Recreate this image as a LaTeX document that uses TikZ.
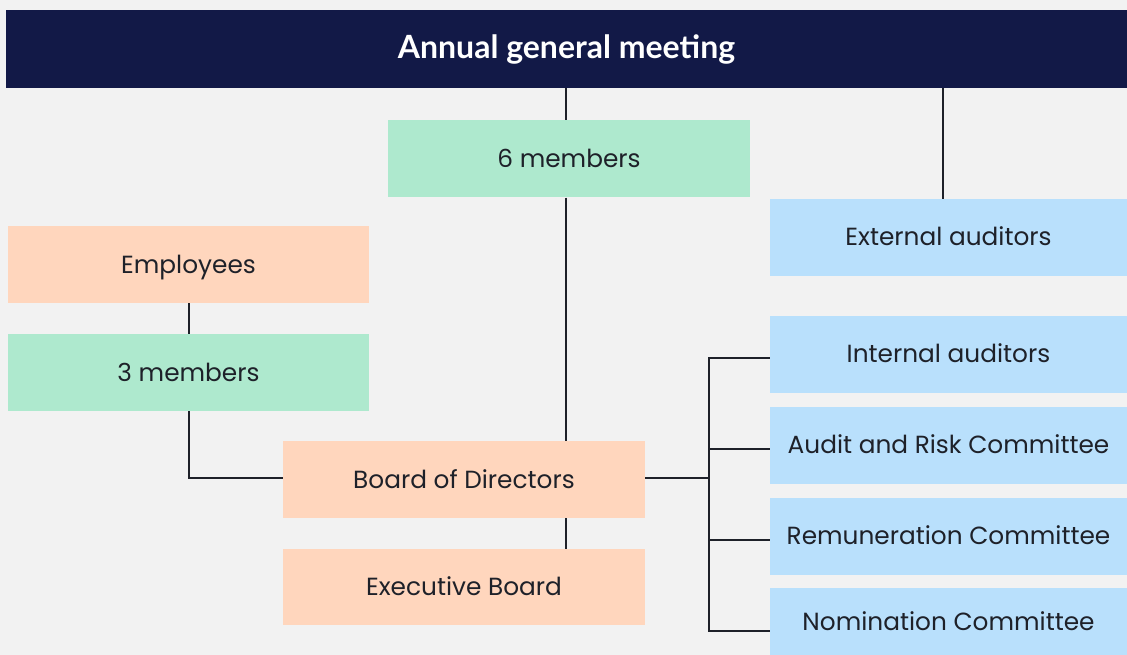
\documentclass[tikz,border=0pt]{standalone}
\usepackage{fontspec}
\setmainfont{Poppins}
\newfontfamily\titlefont{Lato}
\usetikzlibrary{positioning}

\definecolor{navy}{HTML}{121947}
\definecolor{mint}{HTML}{AEE9CE}
\definecolor{peach}{HTML}{FFD6BD}
\definecolor{sky}{HTML}{B9E0FC}
\definecolor{paper}{HTML}{F2F2F2}
\definecolor{ink}{HTML}{1E2129}

\tikzset{
    box/.style={inner sep=0pt, minimum height=77pt, text height=23pt, text depth=6pt,
                text=ink, font=\fontsize{24.8}{28}\selectfont},
    member/.style={box, fill=mint, minimum width=362pt},
    staff/.style={box, fill=peach, minimum width=362pt},
    audit/.style={box, fill=sky, minimum width=357pt},
    link/.style={draw=ink, line width=2pt}
}

\begin{document}
\begin{tikzpicture}[x=1pt, y=-1pt]
            \useasboundingbox[fill=paper] (0,0) rectangle (1127,655);

            \node[fill=navy, minimum width=1121pt, minimum height=78pt, inner sep=0pt, text=white,
                  font=\titlefont\bfseries\fontsize{32}{34}\selectfont] (agm) at (566.5,49) {Annual general meeting};

            \node[member] (six) at (569,159) {6 members};
            \node[audit] (ext) at (948.5,237.5) {External auditors};
            \node[staff, minimum width=361pt] (emp) at (188.5,264.5) {Employees};
            \node[member, minimum width=361pt] (three) at (188.5,372.5) {3 members};
            \node[staff] (board) at (464,479.5) {Board of Directors};
            \node[staff, minimum height=76pt] (exec) at (464,587) {Executive Board};

            \node[audit] (intl) at (948.5,354) {Internal auditors};
            \node[audit] (arc) at (948.5,445) {Audit and Risk Committee};
            \node[audit] (rem) at (948.5,536) {Remuneration Committee};
            \node[audit, minimum height=67pt] (nom) at (948.5,621.5) {Nomination Committee};

            \coordinate (mid) at (566,0);
            \coordinate (right) at (943,0);
            \coordinate (spine) at (709,0);

            \draw[link] (agm.south -| mid) -- (six.north -| mid);
            \draw[link] (six.south -| mid) -- (board.north -| mid);
            \draw[link] (board.south -| mid) -- (exec.north -| mid);
            \draw[link] (agm.south -| right) -- (ext.north -| right);

            \draw[link] (emp.south) -- (three.north);
            \draw[link] (three.south) -- ([yshift=1.5pt]three.south |- board.west) -- ([yshift=1.5pt]board.west);

            \draw[link] ([yshift=1.5pt]board.east) -- ([yshift=1.5pt]board.east -| spine);
            \draw[link] ([yshift=-4pt]intl.west) -- ([yshift=-4pt]intl.west -| spine)
                -- ([yshift=-9.5pt]nom.west -| spine) -- ([yshift=-9.5pt]nom.west);
            \draw[link] ([yshift=-4pt]arc.west -| spine) -- ([yshift=-4pt]arc.west);
            \draw[link] ([yshift=-4pt]rem.west -| spine) -- ([yshift=-4pt]rem.west);
        \end{tikzpicture}
\end{document}
